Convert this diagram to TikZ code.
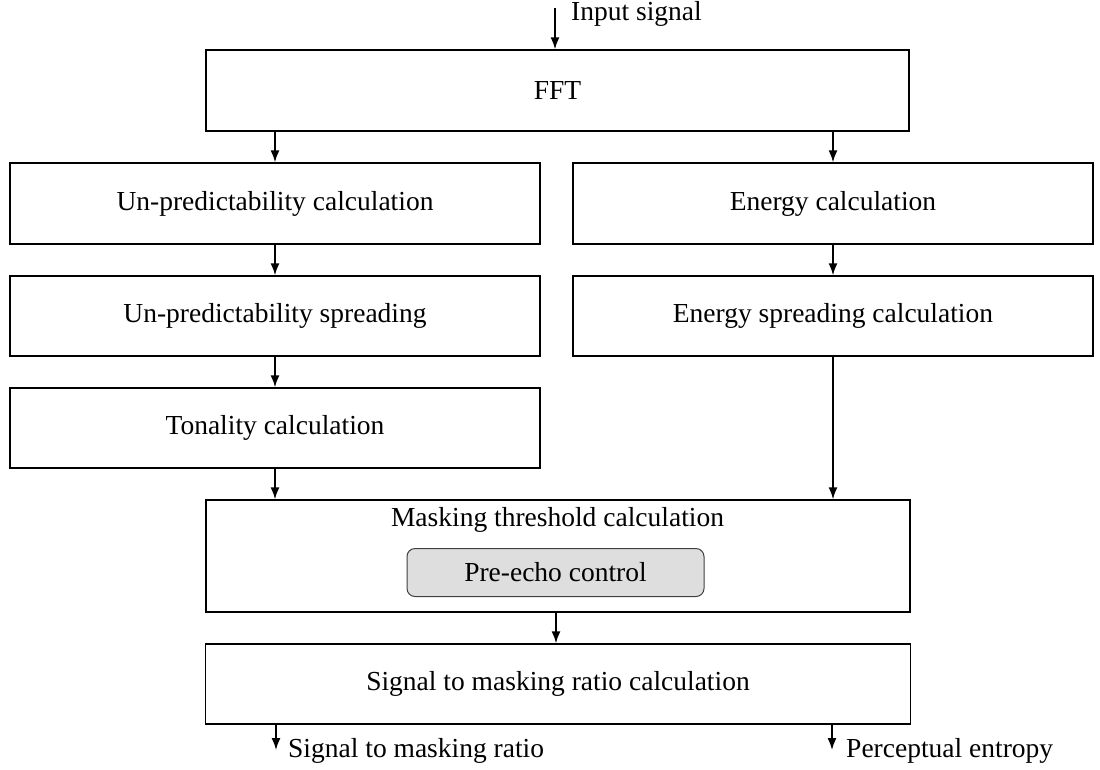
\documentclass[tikz,border=0pt]{standalone}
\usepackage{fontspec}
\setmainfont{Liberation Serif}
\usetikzlibrary{arrows.meta}
\tikzset{
  blk/.style={draw=black, line width=1.4pt, fill=white, inner sep=0pt, font=\fontsize{27.5}{32}\selectfont},
  arr/.style={line width=1.6pt, -{Latex[length=12pt,width=9pt]}},
  lbl/.style={anchor=west, inner sep=0pt, font=\fontsize{27.5}{32}\selectfont},
}
\begin{document}
\begin{tikzpicture}[x=1pt,y=-1pt]
\useasboundingbox (0,0) rectangle (1100,769);
\node[blk, minimum width=703pt, minimum height=81pt] (fft) at (557.5,90.5) {FFT};
\node[blk, minimum width=530pt, minimum height=81pt] (ul) at (275,203.5) {Un-predictability calculation};
\node[blk, minimum width=520pt, minimum height=81pt] (en) at (833,203.5) {Energy calculation};
\node[blk, minimum width=530pt, minimum height=80pt] (us) at (275,316) {Un-predictability spreading};
\node[blk, minimum width=520pt, minimum height=80pt] (es) at (833,316) {Energy spreading calculation};
\node[blk, minimum width=530pt, minimum height=80pt] (ton) at (275,428) {Tonality calculation};
\node[blk, minimum width=704pt, minimum height=112pt] (mask) at (558,556) {};
\node[inner sep=0pt, font=\fontsize{27.5}{32}\selectfont] (mtitle) at (557.5,520) {Masking threshold calculation};
\node[draw=black!75, line width=1pt, rounded corners=8pt, fill=black!13, minimum width=297pt, minimum height=48pt, inner sep=0pt, font=\fontsize{27.5}{32}\selectfont] (pre) at (555.5,572.5) {Pre-echo control};
\node[blk, minimum width=705pt, minimum height=80pt] (smr) at (558,684) {Signal to masking ratio calculation};
% input
\coordinate (in) at (555,8);
\node[lbl] (inl) at (571,14) {Input signal};
\draw[arr] (in) -- (in |- fft.north);
% connectors
\draw[arr] (fft.south -| ul.north) -- (ul.north);
\draw[arr] (fft.south -| en.north) -- (en.north);
\draw[arr] (ul.south) -- (us.north);
\draw[arr] (en.south) -- (es.north);
\draw[arr] (us.south) -- (ton.north);
\draw[arr] (ton.south) -- (ton.south |- mask.north);
\draw[arr] (es.south) -- (es.south |- mask.north);
\coordinate (mid) at (556,0);
\draw[arr] (mid |- mask.south) -- (mid |- smr.north);
% outputs
\coordinate (o1) at (276,750);
\coordinate (o2) at (832,750);
\draw[arr] (o1 |- smr.south) -- (o1);
\draw[arr] (o2 |- smr.south) -- (o2);
\node[lbl] (o1l) at (288,751) {Signal to masking ratio};
\node[lbl] (o2l) at (846,751) {Perceptual entropy};
\end{tikzpicture}
\end{document}
